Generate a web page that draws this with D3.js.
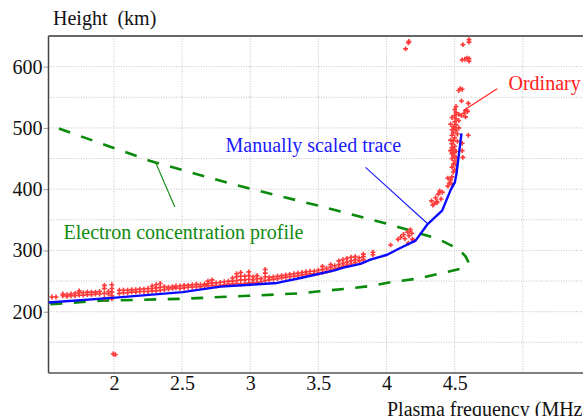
<!DOCTYPE html>
<html>
<head>
<meta charset="utf-8">
<script src="https://cdn.jsdelivr.net/npm/d3@7"></script>
<style>
  body { margin: 0; background: #fff; }
</style>
</head>
<body>
<div id="chart"></div>
<script>
// ionogram data: plasma frequency (MHz) vs height (km)
let xTicks = [2, 2.5, 3, 3.5, 4, 4.5];
let xGrid = [2, 2.5, 3, 3.5, 4, 4.5, 5];
let yTicks = [200, 300, 400, 500, 600];
let yGrid = [150, 200, 250, 300, 350, 400, 450, 500, 550, 600];

// manually scaled trace (blue)
let traceFreq   = [1.52, 2.012, 2.503, 2.782, 2.998, 3.198, 3.369, 3.611, 3.684, 3.809, 3.882, 4.005, 4.082, 4.213, 4.298, 4.408, 4.469, 4.501, 4.513, 4.55];
let traceHeight = [215, 223, 232, 241, 244, 247, 255, 267, 272, 278, 285, 293, 302, 316, 342, 365, 398, 411, 425, 491];

// electron concentration profile (green dashed)
let profileFreq   = [1.596, 2.268, 2.855, 3.501, 4.015, 4.376, 4.53, 4.581, 4.603, 4.543, 4.396, 4.225, 4.029, 3.882, 3.684, 3.491, 3.369, 2.987, 2.488, 1.902, 1.52];
let profileHeight = [499, 446, 409, 373, 343, 319, 302, 290, 280, 270, 262.5, 254, 248, 242, 237, 233, 230, 226, 221, 218, 212];

// ordinary trace points (red), low band: one frequency, several heights
let bandFreq = [1.545, 1.575, 1.625, 1.655, 1.685, 1.715, 1.745, 1.775, 1.805, 1.835, 1.865, 1.895, 1.93, 1.96, 1.985,
  2.04, 2.07, 2.10, 2.13, 2.16, 2.19, 2.22, 2.25, 2.28, 2.31, 2.34, 2.37, 2.40, 2.43, 2.455, 2.485, 2.515, 2.545, 2.575,
  2.605, 2.635, 2.665, 2.69, 2.72, 2.75, 2.78, 2.81, 2.84, 2.87, 2.90, 2.93, 2.96, 2.99, 3.02, 3.05, 3.08, 3.11, 3.14,
  3.17, 3.20, 3.23, 3.26, 3.29, 3.32, 3.35, 3.38, 3.41, 3.44, 3.47, 3.50, 3.53, 3.56, 3.59, 3.62, 3.65, 3.68, 3.71,
  3.74, 3.77, 3.80, 3.83, 3.90, 4.03];
let bandHeights = [[224], [224], [226, 229], [225, 228], [226, 229], [226, 230], [227, 231, 234], [227, 231], [228, 232],
  [228, 232], [229, 232], [229, 233], [222, 230, 238, 243], [229, 233], [221, 226, 232, 238, 244],
  [230, 235], [231, 235], [231, 235], [232, 236], [232, 236], [233, 237], [233, 237], [233, 238], [234, 238, 242],
  [234, 239, 244], [235, 240, 246], [236, 241], [237, 240], [238, 241], [239, 242], [238, 242], [239, 243], [240, 243],
  [240, 244], [241, 245], [241, 244], [242, 245], [242, 246, 250], [243, 247, 252], [242, 247], [243, 248], [244, 249],
  [245, 250], [245, 250, 255], [246, 251, 257, 262], [245, 252, 258, 264], [246, 252, 258], [247, 253, 259, 265],
  [247, 252, 257], [248, 254, 259], [249, 254], [251, 257, 263, 269], [252, 256], [253, 257], [254, 258], [255, 259],
  [256, 260], [257, 261], [258, 262], [259, 263], [260, 264], [261, 265], [262, 266], [262, 266], [263, 268],
  [264, 269, 274], [266, 271], [268, 273, 277], [270, 275], [272, 277, 283], [274, 279, 285], [276, 281, 287],
  [278, 283, 289], [280, 285, 290], [283, 288], [285, 290, 294], [293, 297], [309]];

// ordinary trace points, rising part and scattered echoes
let riseFreq = [4.085, 4.105, 4.125, 4.135, 4.155, 4.165, 4.175, 4.185, 4.19, 4.20, 4.16,
  4.33, 4.35, 4.37, 4.34, 4.36, 4.38, 4.39, 4.41, 4.37, 4.40,
  4.45, 4.46, 4.47, 4.45, 4.48, 4.48,
  4.49, 4.50, 4.48, 4.49, 4.50, 4.48, 4.49, 4.50, 4.49, 4.50, 4.48, 4.49, 4.50, 4.48, 4.49, 4.51, 4.50, 4.51, 4.50, 4.51, 4.50, 4.51, 4.50, 4.51,
  4.51, 4.51, 4.51, 4.52, 4.52, 4.53, 4.53, 4.53,
  4.48, 4.47, 4.48, 4.47, 4.48, 4.49, 4.47, 4.48,
  4.555, 4.555, 4.56, 4.60, 4.55, 4.57, 4.58, 4.595, 4.585, 4.60, 4.55,
  4.53, 4.54, 4.555, 4.555, 4.575, 4.59, 4.605, 4.605, 4.56, 4.605, 4.605,
  4.14, 4.16, 4.165, 1.995, 2.01];
let riseHeight = [318, 322, 326, 319, 330, 324, 334, 328, 318, 316, 312,
  381, 376, 378, 374, 386, 392, 397, 395, 380, 384,
  405, 410, 415, 418, 408, 420,
  428, 432, 436, 441, 446, 450, 455, 460, 465, 470, 474, 479, 484, 488, 492, 496, 500, 505, 510, 515, 520, 525, 530, 535,
  440, 452, 462, 478, 490, 500, 512, 522,
  458, 463, 468, 480, 497, 502, 506, 517,
  475, 463, 452, 488, 520, 524, 518, 527, 529, 540, 544,
  561, 564, 563, 611, 612, 614, 609, 613, 636, 644, 640,
  629, 639, 641, 131, 130];

let annotations = [
  {text: "Ordinary", color: "#ff2020", f: 4.895, h: 561.6, from: [4.812, 564], to: [4.562, 528]},
  {text: "Manually scaled trace", color: "#1a1aff", f: 2.819, h: 460.6, from: [3.846, 435.6], to: [4.298, 344.4]},
  {text: "Electron concentration profile", color: "#108a10", f: 1.63, h: 319.3, from: [2.305, 444], to: [2.447, 371]}
];

let serif = "'Liberation Serif', Tinos, 'Times New Roman', 'DejaVu Serif', serif";
let screen = {width: 583, height: 416};
let plot = {left: 48.5, top: 36, bottom: 373};

let svg = d3.select("#chart").append("svg")
  .attr("width", screen.width)
  .attr("height", screen.height)
  .attr("font-family", serif);

let xScale = d3.scaleLinear().domain([1.52, 5.45]).range([plot.left, plot.left + 136.3 * 3.93]);
let yScale = d3.scaleLinear().domain([100, 650]).range([plot.bottom, plot.top]);

svg.append("clipPath").attr("id", "clip")
  .append("rect")
  .attr("x", plot.left).attr("y", plot.top)
  .attr("width", screen.width - plot.left).attr("height", plot.bottom - plot.top);

// grid
let grid = svg.append("g").attr("stroke", "#c4c4c4").attr("stroke-dasharray", "1,1.5");
grid.selectAll(".gx").data(xGrid).enter().append("line")
  .attr("x1", d => xScale(d)).attr("x2", d => xScale(d))
  .attr("y1", plot.top).attr("y2", plot.bottom);
grid.selectAll(".gy").data(yGrid).enter().append("line")
  .attr("x1", plot.left).attr("x2", screen.width)
  .attr("y1", d => yScale(d)).attr("y2", d => yScale(d));

// axes labels
let xAxis = svg.append("g")
  .attr("transform", "translate(0," + plot.bottom + ")")
  .call(d3.axisBottom(xScale).tickValues(xTicks).tickSize(0).tickPadding(3).tickFormat(d3.format("")));
let yAxis = svg.append("g")
  .attr("transform", "translate(" + plot.left + ",0)")
  .call(d3.axisLeft(yScale).tickValues(yTicks).tickSize(5).tickPadding(1));
[xAxis, yAxis].forEach(function(a) {
  a.attr("font-family", serif).attr("font-size", 20);
  a.select(".domain").remove();
  a.selectAll("text").attr("fill", "#111");
  a.selectAll(".tick line").attr("stroke", "#999");
});

// frame
svg.append("line").attr("x1", plot.left).attr("x2", screen.width)
  .attr("y1", plot.top).attr("y2", plot.top).attr("stroke", "#666").attr("stroke-width", 2);
svg.append("line").attr("x1", plot.left).attr("x2", plot.left)
  .attr("y1", plot.top).attr("y2", plot.bottom).attr("stroke", "#444").attr("stroke-width", 1.5);
svg.append("line").attr("x1", plot.left).attr("x2", screen.width)
  .attr("y1", plot.bottom).attr("y2", plot.bottom).attr("stroke", "#555").attr("stroke-width", 1.5);

let chart = svg.append("g").attr("clip-path", "url(#clip)");

let line = d3.line().x(d => xScale(d[0])).y(d => yScale(d[1]));

// profile
chart.append("path")
  .datum(profileFreq.map((f, i) => [f, profileHeight[i]]))
  .attr("d", line)
  .attr("fill", "none")
  .attr("stroke", "#0a8a0a")
  .attr("stroke-width", 2.6)
  .attr("stroke-dasharray", "12,11.5");

// red points
let points = [];
bandFreq.forEach(function(f, i) {
  bandHeights[i].forEach(function(h) { points.push([f, h]); });
});
riseFreq.forEach(function(f, i) { points.push([f, riseHeight[i]]); });

chart.selectAll(".pt").data(points).enter().append("path")
  .attr("class", "pt")
  .attr("transform", d => "translate(" + xScale(d[0]) + "," + yScale(d[1]) + ")")
  .attr("d", d3.symbol(d3.symbolCross).size(13))
  .attr("fill", "#ff3a3a");

// trace
chart.append("path")
  .datum(traceFreq.map((f, i) => [f, traceHeight[i]]))
  .attr("d", line)
  .attr("fill", "none")
  .attr("stroke", "#0a0aff")
  .attr("stroke-width", 2.4)
  .attr("stroke-linejoin", "round");

// annotations
annotations.forEach(function(a) {
  chart.append("line")
    .attr("x1", xScale(a.from[0])).attr("y1", yScale(a.from[1]))
    .attr("x2", xScale(a.to[0])).attr("y2", yScale(a.to[1]))
    .attr("stroke", a.color).attr("stroke-width", 1.1);
  svg.append("text")
    .attr("x", xScale(a.f)).attr("y", yScale(a.h))
    .attr("fill", a.color).attr("font-size", 20)
    .text(a.text);
});

// titles
svg.append("text").attr("x", 53).attr("y", 25)
  .attr("font-size", 20).attr("fill", "#111")
  .style("white-space", "pre")
  .text("Height  (km)");
svg.append("text").attr("x", 387).attr("y", 416)
  .attr("font-size", 20).attr("fill", "#111")
  .text("Plasma frequency (MHz)");
</script>
</body>
</html>
